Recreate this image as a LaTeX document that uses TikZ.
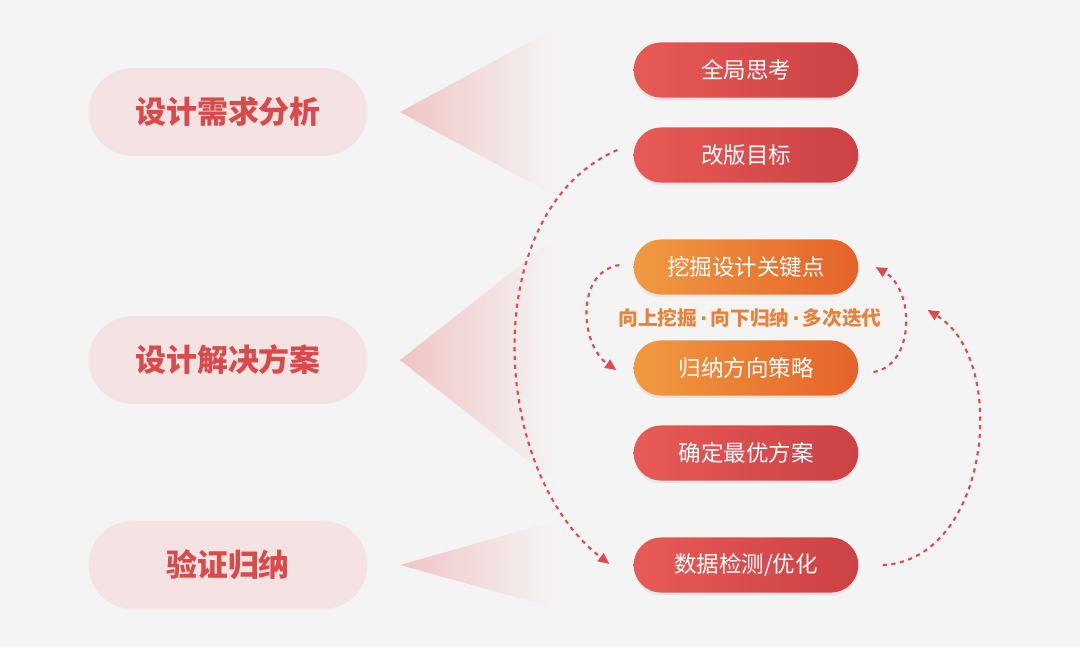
\documentclass[tikz,border=0pt]{standalone}
\usepackage{fontspec}
\usepackage{tikz}
\usetikzlibrary{arrows.meta, positioning, calc, shapes.misc, shadows}
\setmainfont{Noto Sans CJK SC}
\newfontfamily\cjk{Noto Sans CJK SC}
\newfontfamily\dotfont{DejaVu Sans}
\newcommand\hintdot{\kern.15em{\dotfont\bfseries ·}\kern.15em}
\definecolor{paper}{HTML}{F5F4F4}
\definecolor{stagefill}{HTML}{F5E3E4}
\definecolor{stagered}{HTML}{D94A4A}
\definecolor{wedge}{HTML}{F0C4C4}
\definecolor{redL}{HTML}{E85A55}
\definecolor{redR}{HTML}{CB4145}
\definecolor{orangeL}{HTML}{F09A40}
\definecolor{orangeR}{HTML}{E5622A}
\definecolor{hintorange}{HTML}{E8823A}
\definecolor{flowred}{HTML}{E04A4A}

\begin{document}
\begin{tikzpicture}[x=0.025cm, y=-0.025cm, >={Triangle[length=8pt,width=7pt]},
  stage/.style={rounded rectangle, fill=stagefill, text=stagered,
    minimum width=7.2cm, minimum height=2.2cm,
    font=\cjk\fontsize{22}{24}\selectfont\bfseries},
  task/.style={rounded rectangle, left color=redL, right color=redR, text=white,
    minimum width=5.85cm, minimum height=1.38cm,
    drop shadow={opacity=0.12, shadow xshift=0pt, shadow yshift=-2pt},
    font=\cjk\fontsize{16}{18}\selectfont},
  hot/.style={task, left color=orangeL, right color=orangeR},
  flow/.style={->, flowred, line width=1.5pt, dash pattern=on 3pt off 3.2pt}]
  % background
  \fill[paper] (0,0) rectangle (1080,647);
  \useasboundingbox (0,0) rectangle (1080,647);
  % wedges
  \shade[left color=wedge, right color=paper] (400,112) -- (555,28) -- (555,196) -- cycle;
  \shade[left color=wedge, right color=paper] (400,360) -- (555,238) -- (555,482) -- cycle;
  \shade[left color=wedge, right color=paper] (400,565) -- (555,521) -- (555,608) -- cycle;
  % stages
  \node[stage] (need) at (228,112) {设计需求分析};
  \node[stage] (solve) at (228,360) {设计解决方案};
  \node[stage] (verify) at (228,565) {验证归纳};
  % tasks
  \node[task] (whole) at (746,70) {全局思考};
  \node[task] (goal) at (746,155) {改版目标};
  \node[hot] (dig) at (746,267) {挖掘设计关键点};
  \node[hot] (sum) at (746,368) {归纳方向策略};
  \node[task] (best) at (746,453) {确定最优方案};
  \node[task] (data) at (746,565) {数据检测/优化};
  \node[text=hintorange, font=\cjk\fontsize{14}{16}\selectfont\bfseries] (hint) at (750,318)
    {向上挖掘\hintdot 向下归纳\hintdot 多次迭代};
  % loops
  \draw[flow] ($(goal.west)+(-16,-5)$) .. controls (478,210) and (488,470) .. ($(data.west)+(-24,-1)$);
  \draw[flow] ($(dig.west)+(-14,-2)$) .. controls (575,272) and (580,345) .. ($(sum.west)+(-17,2)$);
  \draw[flow] ($(sum.east)+(15,4)$) .. controls (915,365) and (915,290) .. ($(dig.east)+(17,0)$);
  \draw[flow] ($(data.east)+(24,0)$) .. controls (990,560) and (1010,360) .. ($(dig.east)+(69,43)$);
\end{tikzpicture}
\end{document}
